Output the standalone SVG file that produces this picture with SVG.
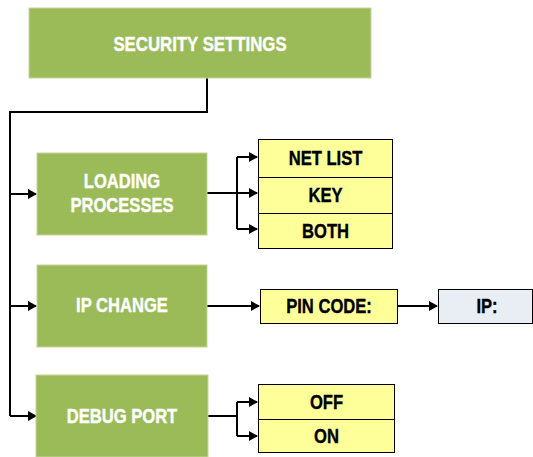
<svg xmlns="http://www.w3.org/2000/svg" width="533" height="457" viewBox="0 0 533 457">
<style>
.g{fill:#9BBB59;stroke:#C3D69B;stroke-width:1}
.y{fill:#FFFF99;stroke:#000;stroke-width:1}
.b{fill:#E9EDF4;stroke:#000;stroke-width:1}
text{font-family:"Liberation Sans",Arial,sans-serif;font-weight:bold;font-size:21px;text-anchor:middle;stroke-width:0.4}
.w{fill:#fff;stroke:#fff}
.k{fill:#000;stroke:#000}
.c{fill:none;stroke:#000;stroke-width:2}
</style>
<defs>
<marker id="ah" markerWidth="10" markerHeight="10" refX="8" refY="5" orient="auto" markerUnits="userSpaceOnUse">
<path d="M0,0 L9,5 L0,10 Z" fill="#000"/>
</marker>
</defs>
<g id="connectors">
<path class="c" d="M207,78 V112 H10 V416"/>
<path class="c" d="M10,194 H36" marker-end="url(#ah)"/>
<path class="c" d="M10,306 H36" marker-end="url(#ah)"/>
<path class="c" d="M10,416 H36" marker-end="url(#ah)"/>
<path class="c" d="M207,193 H237"/>
<path class="c" d="M237,157 V229"/>
<path class="c" d="M237,157 H257" marker-end="url(#ah)"/>
<path class="c" d="M237,193 H257" marker-end="url(#ah)"/>
<path class="c" d="M237,229 H257" marker-end="url(#ah)"/>
<path class="c" d="M207,306 H259" marker-end="url(#ah)"/>
<path class="c" d="M397,306 H437" marker-end="url(#ah)"/>
<path class="c" d="M208,416 H237"/>
<path class="c" d="M237,402 V436"/>
<path class="c" d="M237,402 H257" marker-end="url(#ah)"/>
<path class="c" d="M237,436 H257" marker-end="url(#ah)"/>
</g>
<g id="security-settings">
<rect class="g" x="29" y="8" width="342" height="70"/>
<text class="w" transform="translate(200,50.5) scale(0.8,1)">SECURITY SETTINGS</text>
</g>
<g id="loading-processes">
<rect class="g" x="37" y="153" width="170" height="82"/>
<text class="w" transform="translate(122,188) scale(0.79,1)">LOADING</text>
<text class="w" transform="translate(122,212) scale(0.79,1)">PROCESSES</text>
</g>
<g id="ip-change">
<rect class="g" x="37" y="265" width="170" height="82"/>
<text class="w" transform="translate(122,312) scale(0.79,1)">IP CHANGE</text>
</g>
<g id="debug-port">
<rect class="g" x="36" y="375" width="172" height="82"/>
<text class="w" transform="translate(122,423) scale(0.79,1)">DEBUG PORT</text>
</g>
<g id="net-list">
<rect class="y" x="258.5" y="139.5" width="134" height="38"/>
<text class="k" transform="translate(325.5,165) scale(0.79,1)">NET LIST</text>
</g>
<g id="key">
<rect class="y" x="258.5" y="177.5" width="134" height="36"/>
<text class="k" transform="translate(325.5,202) scale(0.79,1)">KEY</text>
</g>
<g id="both">
<rect class="y" x="258.5" y="213.5" width="134" height="35"/>
<text class="k" transform="translate(325.5,238) scale(0.79,1)">BOTH</text>
</g>
<g id="pin-code">
<rect class="y" x="260.5" y="289.5" width="137" height="34"/>
<text class="k" transform="translate(329,313) scale(0.79,1)">PIN CODE:</text>
</g>
<g id="ip">
<rect class="b" x="438.5" y="289.5" width="94" height="34"/>
<text class="k" transform="translate(487,313) scale(0.79,1)">IP:</text>
</g>
<g id="off">
<rect class="y" x="258.5" y="384.5" width="136" height="35"/>
<text class="k" transform="translate(326.5,409) scale(0.79,1)">OFF</text>
</g>
<g id="on">
<rect class="y" x="258.5" y="419.5" width="136" height="33"/>
<text class="k" transform="translate(326.5,443) scale(0.79,1)">ON</text>
</g>
</svg>
